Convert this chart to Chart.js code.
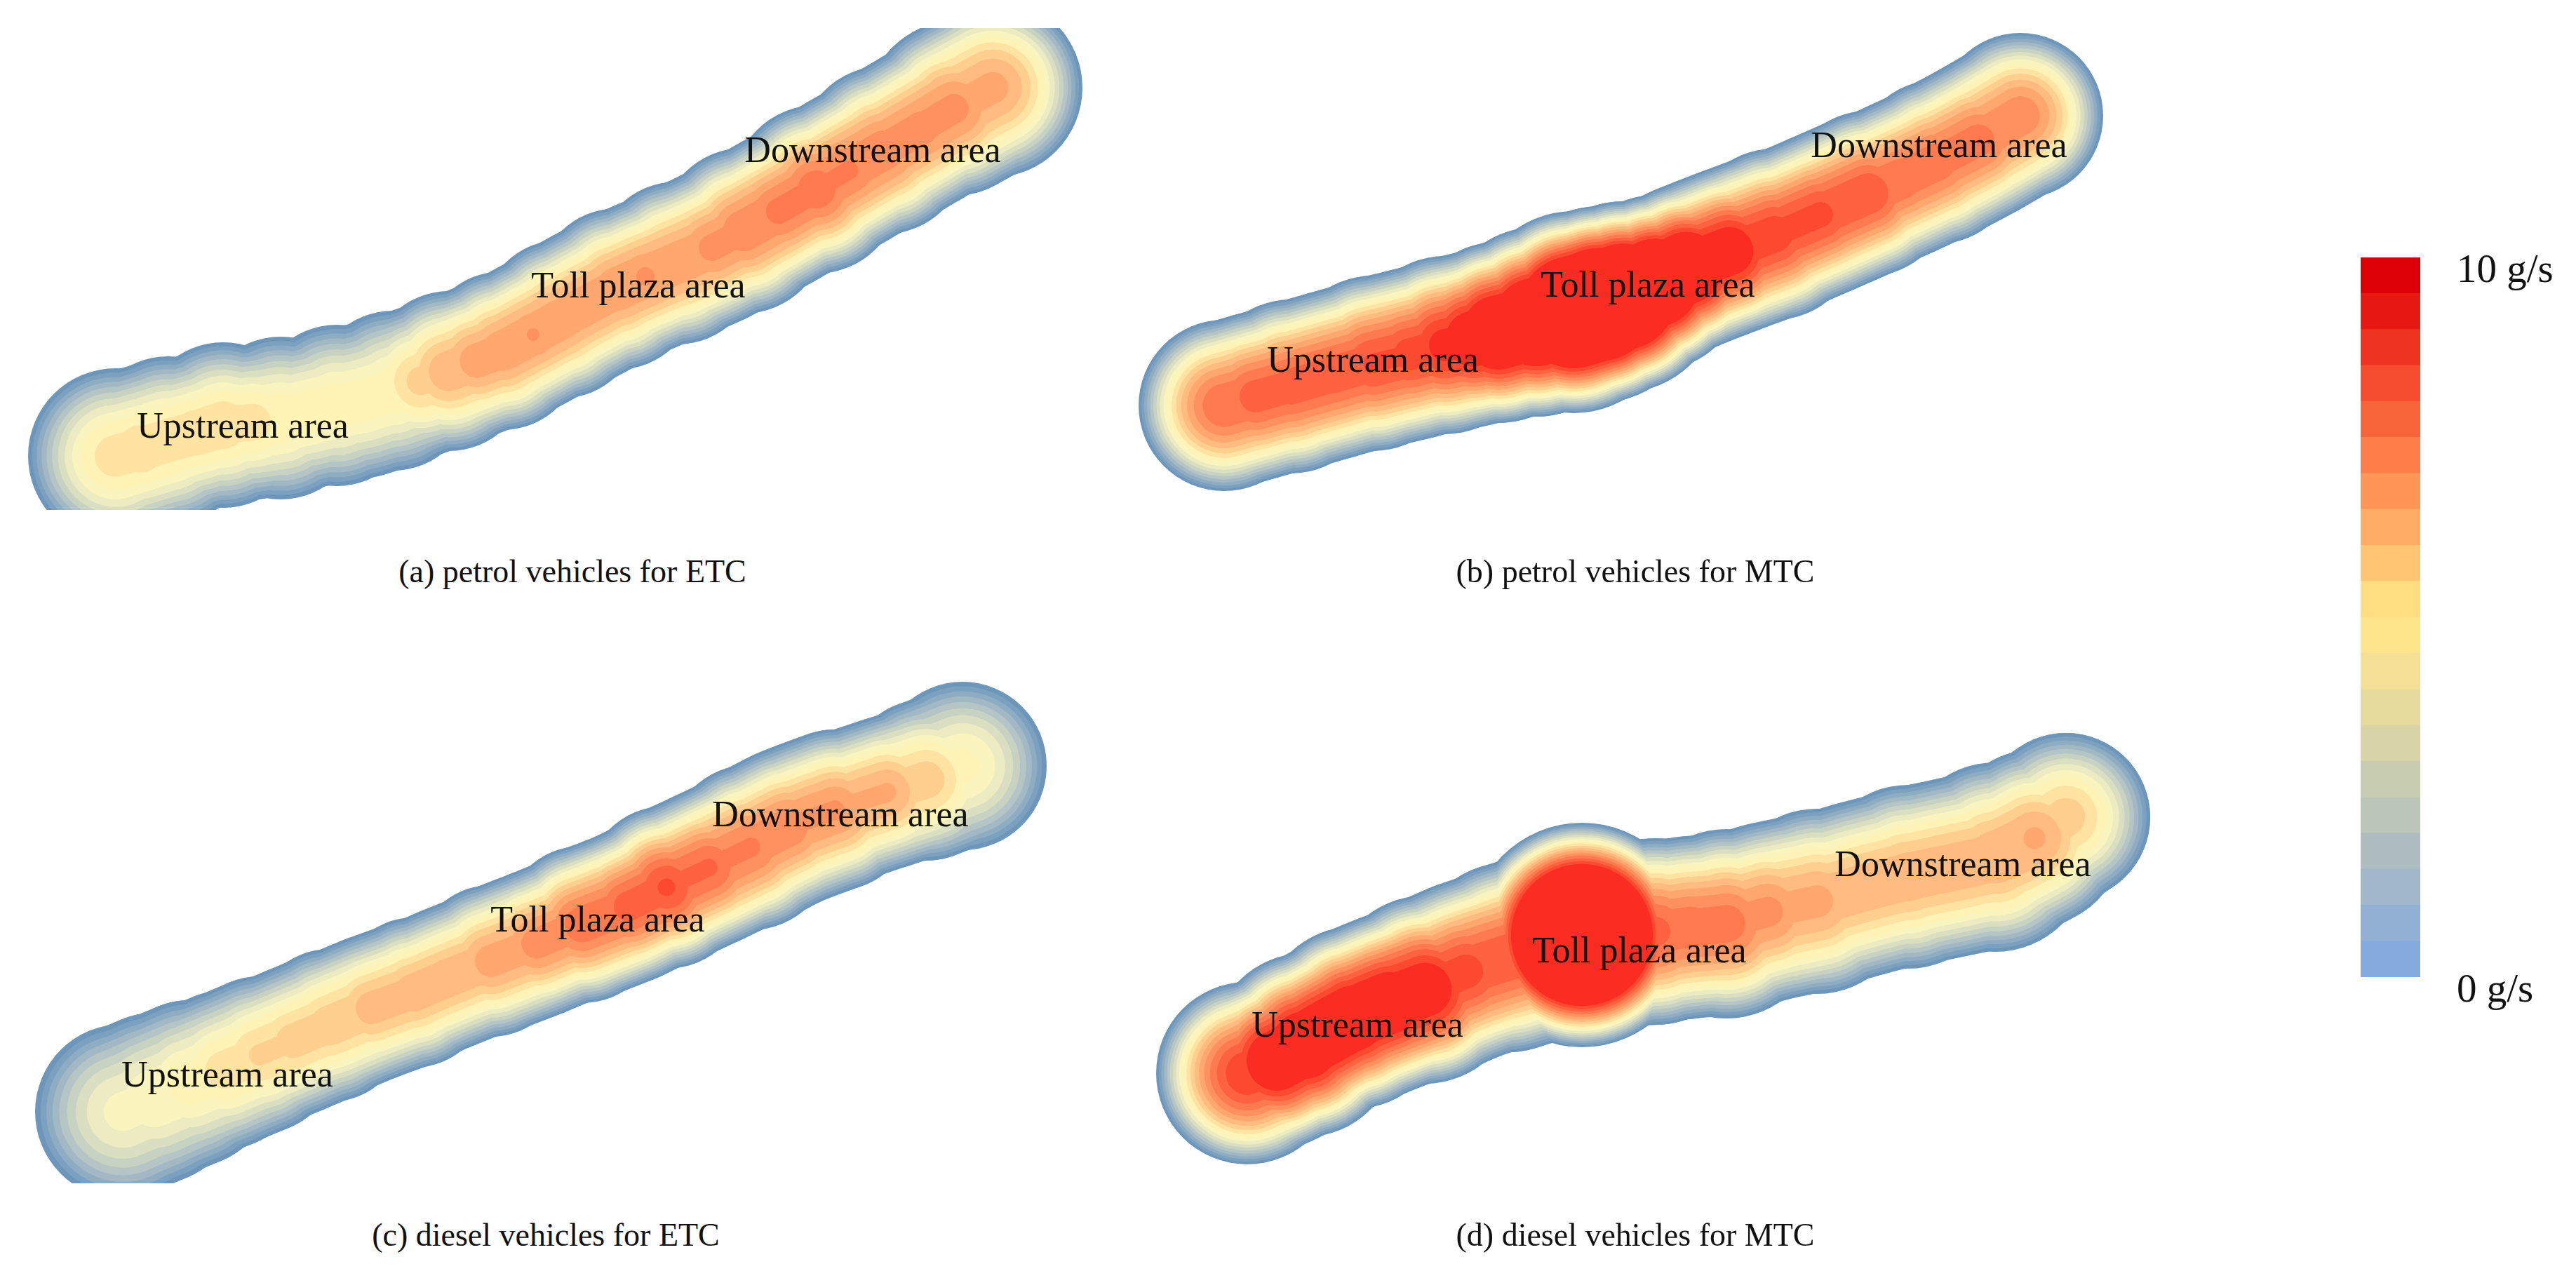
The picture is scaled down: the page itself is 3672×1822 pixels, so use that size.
<!DOCTYPE html>
<html>
<head>
<meta charset="utf-8">
<title>Emission maps</title>
<script src="https://cdn.jsdelivr.net/npm/chart.js@4"></script>
<style>
    html, body { margin: 0; background: #ffffff; }
    #page { position: relative; width: 3672px; height: 1822px; overflow: hidden; }
    canvas { position: absolute; }
    .caption { position: absolute; width: 900px; text-align: center; font: 46px "Liberation Serif"; color: #111111; line-height: 50px; }
</style>
</head>
<body>
<div id="page"></div>
<script>
// Eixos em pixels da figura original: cada trecho lido da imagem
// x, y = linha central da via / reach = meia largura da mancha / peak = g/s no centro
const aX = [165, 200, 240, 280, 318, 360, 400, 440, 480, 517, 560, 600, 640, 680, 716, 760, 800, 840, 880, 920, 965, 1015, 1060, 1110, 1164, 1210, 1260, 1313, 1360, 1415];
const aY = [650, 640, 628, 617, 606, 602, 596, 588, 578, 571, 557, 543, 529, 514, 500, 477, 455, 433, 412, 394, 375, 353, 329, 301, 270, 243, 214, 183, 155, 125];
const aReach = [125, 118, 120, 112, 118, 110, 116, 108, 115, 110, 114, 108, 114, 108, 113, 108, 113, 110, 115, 110, 116, 112, 118, 112, 120, 114, 120, 116, 124, 128];
const aPeak = [5.3, 5.45, 5.35, 5.45, 5.45, 5.3, 4.95, 4.9, 4.85, 4.85, 4.9, 5.7, 6.4, 6.85, 6.95, 7.05, 6.95, 6.95, 7.0, 7.1, 6.95, 7.2, 7.45, 7.7, 7.9, 7.6, 7.4, 7.3, 7.2, 6.7];

const bX = [1745, 1790, 1840, 1900, 1957, 2010, 2060, 2100, 2136, 2190, 2243, 2280, 2314, 2360, 2404, 2465, 2529, 2595, 2663, 2710, 2761, 2820, 2880];
const bY = [578, 565, 551, 534, 518, 505, 492, 483, 474, 459, 445, 434, 423, 403, 382, 358, 334, 306, 276, 255, 231, 200, 165];
const bReach = [122, 120, 124, 121, 125, 123, 127, 125, 129, 135, 144, 140, 136, 125, 120, 120, 122, 117, 118, 114, 117, 115, 118];
const bPeak = [8.0, 8.3, 8.35, 8.4, 8.6, 8.8, 9.3, 10, 10.8, 11.5, 13, 13.5, 13, 12, 11, 9.8, 8.9, 8.7, 8.5, 8.0, 7.9, 7.8, 7.4];

const cX = [175, 220, 270, 320, 370, 418, 470, 530, 590, 637, 700, 765, 830, 896, 950, 1010, 1070, 1124, 1190, 1264, 1320, 1372];
const cY = [1585, 1566, 1545, 1525, 1504, 1484, 1462, 1437, 1415, 1395, 1370, 1345, 1318, 1292, 1265, 1237, 1208, 1180, 1155, 1130, 1112, 1092];
const cReach = [125, 122, 119, 113, 112, 107, 109, 105, 107, 103, 108, 106, 112, 110, 116, 113, 118, 115, 115, 109, 115, 120];
const cPeak = [4.2, 4.5, 4.8, 5.3, 5.6, 5.8, 5.9, 6.3, 6.4, 6.45, 6.8, 7.3, 7.9, 8.3, 8.6, 8.1, 7.6, 7.4, 7.1, 6.6, 5.8, 4.7];

const dX = [1778, 1820, 1860, 1887, 1930, 1980, 2031, 2090, 2150, 2200, 2255, 2310, 2360, 2410, 2461, 2520, 2590, 2653, 2720, 2790, 2844, 2900, 2945];
const dY = [1530, 1512, 1490, 1474, 1451, 1430, 1411, 1385, 1365, 1350, 1333, 1330, 1328, 1322, 1317, 1300, 1285, 1267, 1250, 1235, 1222, 1195, 1165];
const dReach = [130, 125, 131, 125, 130, 128, 134, 130, 135, 135, 160, 135, 133, 130, 135, 128, 132, 126, 131, 128, 135, 126, 120];
const dPeak = [9.0, 10.2, 10.4, 10.4, 10.3, 10.2, 9.8, 8.8, 8.5, 8.9, 15, 8.9, 8.2, 7.9, 7.8, 7.2, 6.7, 6.45, 6.45, 6.45, 6.5, 6.6, 5.8];

// Cores das faixas do mapa, de fora para dentro, uma a cada 0.5 g/s
const mapColors = ['#6d96ba', '#7ca0bf', '#8eacc2', '#a2b8c4', '#b5c4c4', '#c8d2c2', '#dbdfc2', '#ecebc1', '#faf5bf', '#fff3b5', '#ffe3a3', '#ffcf8f', '#ffbb80', '#ffa76e', '#ff905f', '#ff7a4f', '#ff6240', '#fc4a30', '#fb2d22'];

// Legenda, de baixo para cima
const legendColors = ['#85abde', '#92b0d3', '#a3b7ca', '#aebdc0', '#bcc6b8', '#c8ccb0', '#d9d3a8', '#e6da9c', '#f4e094', '#ffe58a', '#ffdd80', '#ffc572', '#ffad64', '#ff9657', '#ff7d49', '#f8653a', '#f54d2d', '#ee3320', '#e81812', '#dd0007'];
const legendStep = 0.5;
const legendTicks = [0, 10];

const areaNames = ['Upstream area', 'Toll plaza area', 'Downstream area'];

const page = document.getElementById('page');

function criarCanvas(left, top, width, height) {
    const canvas = document.createElement('canvas');
    canvas.width = width;
    canvas.height = height;
    canvas.style.left = left + 'px';
    canvas.style.top = top + 'px';
    page.appendChild(canvas);
    return canvas;
}

// Raio do contorno num ponto: perfil parabólico entre centro e borda
function raioNivel(reach, peak, limite) {
    if (peak <= limite) return 0;
    return reach * Math.sqrt(1 - limite / peak);
}

const labelPlugin = {
    id: 'areaLabels',
    afterDatasetsDraw(chart, args, opts) {
        const ctx = chart.ctx;
        ctx.save();
        ctx.font = '52px "Liberation Serif"';
        ctx.fillStyle = '#111111';
        ctx.textAlign = 'center';
        ctx.textBaseline = 'middle';
        opts.names.forEach((nome, i) => {
            ctx.fillText(nome, chart.scales.x.getPixelForValue(opts.xs[i]), chart.scales.y.getPixelForValue(opts.ys[i]));
        });
        ctx.restore();
    }
};

function criarPainel(box, xs, ys, reach, peak, labelXs, labelYs) {
    const pontos = xs.map((x, i) => ({ x: x, y: ys[i] }));

    const datasets = mapColors.map((cor, nivel) => {
        const limite = nivel * legendStep;
        const raio = i => raioNivel(reach[i], peak[i], limite);
        // trecho com o menor raio, o disco de cada ponto completa a mancha
        const largura = ctx => 2 * Math.min(raio(ctx.p0DataIndex), raio(ctx.p1DataIndex));
        return {
            data: pontos,
            order: -nivel,
            clip: 0,
            tension: 0.3,
            pointRadius: ctx => raio(ctx.dataIndex),
            pointBackgroundColor: cor,
            pointBorderWidth: 0,
            borderWidth: 1,
            borderColor: cor,
            borderCapStyle: 'round',
            borderJoinStyle: 'round',
            segment: {
                borderWidth: ctx => Math.max(largura(ctx), 0.01),
                borderColor: ctx => largura(ctx) > 0 ? cor : 'transparent'
            }
        };
    });

    new Chart(criarCanvas(box.x0, box.y0, box.x1 - box.x0, box.y1 - box.y0), {
        type: 'line',
        data: { datasets: datasets },
        options: {
            responsive: false,
            animation: false,
            layout: { padding: 0, autoPadding: false },
            plugins: {
                legend: { display: false },
                tooltip: { enabled: false },
                areaLabels: { names: areaNames, xs: labelXs, ys: labelYs }
            },
            scales: {
                x: { type: 'linear', display: false, min: box.x0, max: box.x1 },
                y: { type: 'linear', display: false, min: box.y0, max: box.y1, reverse: true }
            }
        },
        plugins: [labelPlugin]
    });
}

function criarLegenda() {
    new Chart(criarCanvas(3365, 340, 307, 1110), {
        type: 'bar',
        data: {
            labels: ['g/s'],
            datasets: legendColors.map(cor => ({
                data: [legendStep],
                backgroundColor: cor,
                barPercentage: 1,
                categoryPercentage: 1,
                stack: 'escala'
            }))
        },
        options: {
            responsive: false,
            animation: false,
            layout: { padding: { top: 27, bottom: 57 } },
            plugins: { legend: { display: false }, tooltip: { enabled: false } },
            scales: {
                x: { display: false, stacked: true },
                y: {
                    stacked: true,
                    position: 'right',
                    min: 0,
                    max: 10,
                    afterBuildTicks: axis => { axis.ticks = legendTicks.map(v => ({ value: v })); },
                    afterFit: axis => {
                        axis.width = 222;
                        axis.paddingTop = 0;
                        axis.paddingBottom = 0;
                    },
                    grid: { display: false, drawTicks: false },
                    border: { display: false },
                    ticks: {
                        padding: 52,
                        labelOffset: 20,
                        color: '#111111',
                        font: { family: '"Liberation Serif"', size: 57 },
                        callback: v => v + ' g/s'
                    }
                }
            }
        }
    });
}

function criarLegendaPainel(texto, centroX, centroY) {
    const div = document.createElement('div');
    div.className = 'caption';
    div.textContent = texto;
    div.style.left = (centroX - 450) + 'px';
    div.style.top = (centroY - 25) + 'px';
    page.appendChild(div);
}

criarPainel({ x0: 0, y0: 40, x1: 1590, y1: 727 }, aX, aY, aReach, aPeak, [346, 910, 1244], [610, 410, 217]);
criarPainel({ x0: 1590, y0: 0, x1: 3100, y1: 800 }, bX, bY, bReach, bPeak, [1957, 2349, 2764], [516, 409, 210]);
criarPainel({ x0: 0, y0: 960, x1: 1590, y1: 1687 }, cX, cY, cReach, cPeak, [324, 852, 1198], [1535, 1314, 1164]);
criarPainel({ x0: 1590, y0: 960, x1: 3200, y1: 1780 }, dX, dY, dReach, dPeak, [1935, 2337, 2798], [1464, 1358, 1235]);
criarLegenda();

criarLegendaPainel('(a) petrol vehicles for ETC', 816, 815);
criarLegendaPainel('(b) petrol vehicles for MTC', 2331, 815);
criarLegendaPainel('(c) diesel vehicles for ETC', 778, 1761);
criarLegendaPainel('(d) diesel vehicles for MTC', 2331, 1761);
</script>
</body>
</html>
